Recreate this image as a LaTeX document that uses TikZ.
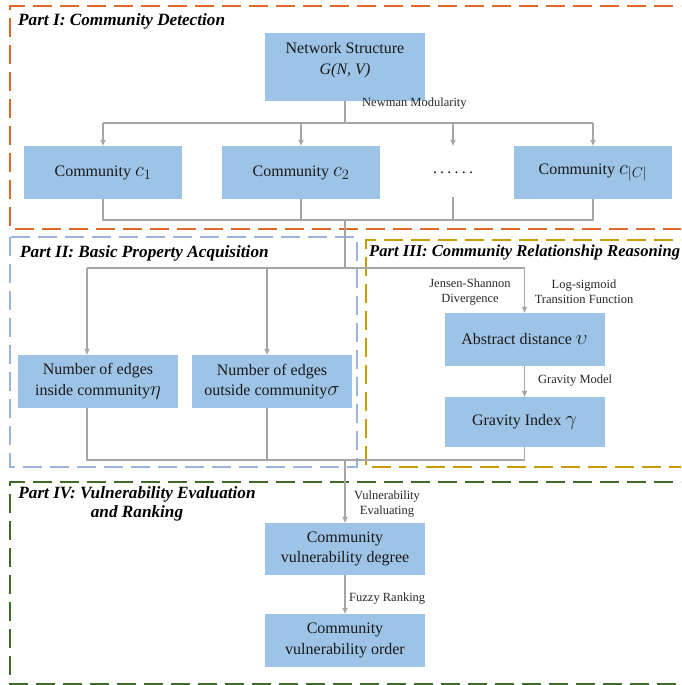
\documentclass[tikz,border=0pt]{standalone}
\usepackage{fontspec}
\setmainfont{Liberation Serif}
\usetikzlibrary{arrows.meta,calc}
\definecolor{boxblue}{HTML}{9DC3E6}
\definecolor{conngray}{HTML}{A6A6A6}
\definecolor{porange}{HTML}{DE6A2A}
\definecolor{pblue}{HTML}{9AB3E0}
\definecolor{pgold}{HTML}{C99C00}
\definecolor{pgreen}{HTML}{3F6B2A}
\newcommand\mymath[1]{{\fontsize{22}{20}\selectfont$#1$}}
\begin{document}
\begin{tikzpicture}[x=1pt,y=-1pt,
 box/.style={fill=boxblue, draw=none, minimum width=160pt, minimum height=53pt, align=center, font=\fontsize{16}{20.5}\selectfont, inner sep=0pt, text=black!90},
 boxtext/.style={align=center, font=\fontsize{16}{20.5}\selectfont, inner sep=0pt, text=black!90},
 lab/.style={font=\fontsize{12.5}{15}\selectfont, align=center, inner sep=0pt, text=black!85},
 ttl/.style={font=\fontsize{17.2}{19}\selectfont\bfseries\itshape, inner sep=0pt, align=center},
 part/.style={line width=2pt, dash pattern=on 19pt off 8pt},
 conn/.style={draw=conngray, line width=1.3pt},
 arr/.style={conn, -{Triangle[length=6pt,width=5pt]}},
]
\clip (0,0) rectangle (681,685);
% parts
\draw[part, porange] (700,6) -| (10,229) -- (700,229);
\draw[part, pblue] (10,237) rectangle (357,467);
\draw[part, pgold] (700,240) -| (366,467) -- (700,467);
\draw[part, pgreen] (700,482) -| (10,684) -- (700,684);
% titles
\node[ttl, anchor=west] (t1) at (18,21) {Part I: Community Detection};
\node[ttl, anchor=west] (t2) at (20,253) {Part II: Basic Property Acquisition};
\node[ttl, anchor=west, font=\fontsize{16.6}{19}\selectfont\bfseries\itshape] (t3) at (369,253) {Part III: Community Relationship Reasoning};
\node[ttl] (t4) at (137,504) {Part IV: Vulnerability Evaluation\\and Ranking};
% boxes
\node[box, minimum height=68pt] (net) at (345,67) {};
\node[boxtext] (nettext) at (345,60) {Network Structure\\\textit{G(N, V)}};
\node[box, minimum width=158pt] (c1) at (103,172.5) {Community \mymath{c_1}};
\node[box, minimum width=158pt] (c2) at (301,172.5) {Community \mymath{c_2}};
\node[box, minimum width=158pt] (cC) at (593,172.5) {Community \mymath{c_{|C|}}};
\node[box, fill=none, minimum width=40pt] (dots) at (453,172.5) {.\kern3.2pt.\kern3.2pt.\kern3.2pt.\kern3.2pt.\kern3.2pt.};
\node[box] (n1) at (98,381.5) {Number of edges\\inside community\mymath{\eta}};
\node[box] (n2) at (272,381.5) {Number of edges\\outside community\mymath{\sigma}};
\node[box] (abs) at (524.5,339.5) {Abstract distance \mymath{\upsilon}};
\node[box, minimum height=50pt] (grav) at (524.5,422) {Gravity Index \mymath{\gamma}};
\node[box, minimum height=52pt] (deg) at (345,549) {Community\\vulnerability degree};
\node[box] (ord) at (345,640.5) {Community\\vulnerability order};
% coordinates
\coordinate (a1) at (345,123);
\coordinate (b1) at (345,220);
\coordinate (b2) at (345,268);
\coordinate (e1) at (87,268);
\coordinate (e2) at (267,268);
\coordinate (f1) at (87,460);
\coordinate (f2) at (267,460);
\coordinate (b3) at (345,460);
% connectors
\draw[conn] (net.south) -- (a1);
\draw[conn] (a1 -| c1) -- (a1 -| cC);
\draw[arr] (a1 -| c1) -- (c1.north);
\draw[arr] (a1 -| c2) -- (c2.north);
\draw[arr] (a1 -| dots) -- (dots.north);
\draw[arr] (a1 -| cC) -- (cC.north);
\draw[conn] (c1.south) -- (c1.south |- b1) -- (cC.south |- b1) -- (cC.south);
\draw[conn] (c2.south) -- (c2.south |- b1);
\draw[conn] ($(dots.south)+(0,-2)$) -- (dots.south |- b1);
\draw[conn] (b1) -- (b2);
\draw[conn] (e1) -- (abs.north |- b2);
\draw[arr] (e1) -- (e1 |- n1.north);
\draw[arr] (e2) -- (e2 |- n2.north);
\draw[arr] (abs.north |- b2) -- (abs.north);
\draw[arr] (abs.south) -- (grav.north);
\draw[conn] (f1 |- n1.south) -- (f1) -- (grav.south |- b3) -- (grav.south);
\draw[conn] (f2 |- n2.south) -- (f2);
\draw[arr] (b3) -- (deg.north);
\draw[arr] (deg.south) -- (ord.north);
% labels
\node[lab, anchor=west] (l1) at (362,104) {Newman Modularity};
\node[lab] (l2) at (470,292) {Jensen-Shannon\\Divergence};
\node[lab] (l3) at (584,292) {Log-sigmoid\\Transition Function};
\node[lab, anchor=west] (l4) at (538,381) {Gravity Model};
\node[lab] (l5) at (387,504) {Vulnerability\\Evaluating};
\node[lab, anchor=west] (l6) at (349,599) {Fuzzy Ranking};
\end{tikzpicture}
\end{document}
